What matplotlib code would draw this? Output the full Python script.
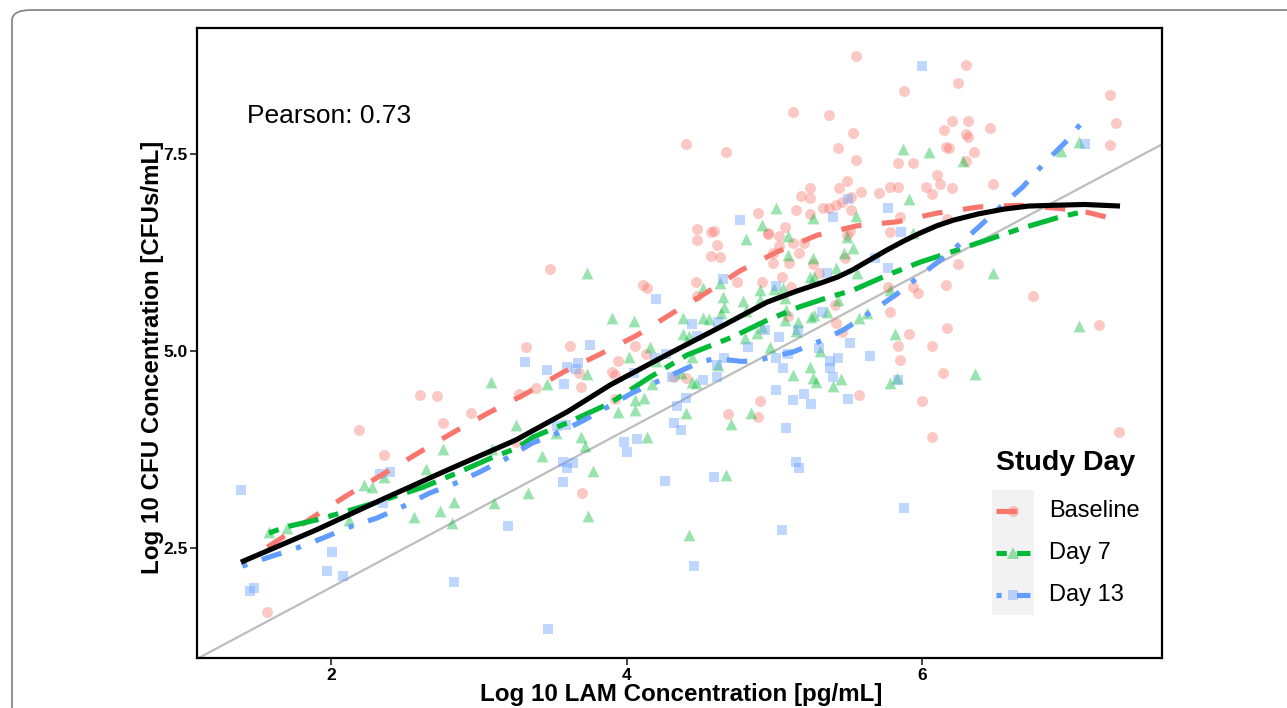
import numpy as np
import matplotlib
matplotlib.use("Agg")
import matplotlib.pyplot as plt
from matplotlib.lines import Line2D
from matplotlib.patches import Rectangle, FancyBboxPatch

plt.rcParams['font.family'] = ['Liberation Sans', 'DejaVu Sans']

# ---------------- data ----------------
series_names = ["Baseline", "Day 7", "Day 13"]

base_x = [2.60, 2.72, 2.95, 2.76, 2.19, 2.36, 3.25, 1.57, 3.48, 3.32, 3.62, 3.68, 3.69, 3.39, 3.27,
          4.06, 3.94, 3.90, 3.92, 4.13, 4.11, 4.14, 4.40, 3.92, 4.69, 4.89, 4.90, 4.32,
          4.48, 4.57, 4.61, 4.57, 4.63, 4.47, 4.48, 4.75, 4.92, 4.96, 5.03, 5.03, 4.99, 5.10,
          4.99, 5.13, 5.17, 5.20, 5.26, 5.30, 5.05, 5.11, 5.09,
          5.13, 5.37, 4.40, 4.67, 5.24, 5.18, 5.24, 5.15, 4.89, 5.24, 5.07, 4.96, 4.48, 4.59,
          5.33, 5.37,
          5.55, 6.30, 6.24, 5.88, 7.27, 7.31, 5.53, 6.15, 6.20, 6.31, 6.46, 6.30, 6.31, 7.27,
          5.43, 6.16, 6.18, 6.35, 6.30, 5.55, 5.84, 5.94, 6.10, 6.12, 6.20, 6.03, 6.07, 6.48,
          5.78, 5.84, 5.71, 5.59, 5.49, 5.44, 5.52, 5.46, 5.42, 5.52, 5.85, 6.17, 5.78, 5.51,
          5.49,
          6.24, 6.75, 6.16, 5.94, 5.97, 5.77, 5.78, 7.20, 6.17, 5.91, 5.84, 6.07, 5.85, 6.14,
          5.57, 6.00, 6.07, 7.33, 5.46, 5.42, 5.41, 5.48, 3.70]
base_y = [4.44, 4.43, 4.21, 4.09, 4.00, 3.68, 3.84, 1.69, 6.04, 5.05, 5.06, 4.72, 4.54, 4.53, 4.45,
          5.06, 4.87, 4.73, 4.70, 4.96, 5.84, 5.80, 4.66, 4.39, 4.20, 4.16, 4.37, 4.67,
          6.41, 6.51, 6.35, 6.21, 6.19, 5.88, 5.70, 5.88, 5.88, 6.48, 6.46, 6.33, 6.24, 6.12,
          6.12, 6.37, 6.24, 6.37, 6.10, 5.99, 5.94, 5.81, 5.44,
          8.03, 7.99, 7.63, 7.53, 7.07, 6.97, 6.94, 6.79, 6.75, 6.74, 6.57, 6.50, 6.55, 6.52,
          6.81, 6.81,
          8.74, 8.63, 8.40, 8.30, 8.25, 7.89, 7.77, 7.80, 7.92, 7.92, 7.83, 7.75, 7.72, 7.61,
          7.58, 7.59, 7.58, 7.53, 7.41, 7.42, 7.39, 7.39, 7.23, 7.12, 7.07, 7.08, 6.99, 7.12,
          7.08, 7.08, 7.01, 7.02, 7.16, 7.07, 6.95, 6.89, 6.85, 6.79, 6.70, 6.68, 6.51, 6.52,
          6.47,
          6.10, 5.70, 5.84, 5.81, 5.74, 5.81, 5.49, 5.33, 5.29, 5.22, 5.06, 5.06, 4.89, 4.72,
          4.44, 4.37, 3.91, 3.97, 5.24, 5.36, 5.58, 6.18, 3.20]

day7_x = [3.08, 3.25, 2.22, 2.28, 2.36, 2.64, 2.76, 3.09, 2.12, 2.56, 2.74, 2.83, 2.82, 3.10, 1.58, 1.70,
          3.73, 3.46, 3.73, 3.90, 4.05, 4.02, 4.16, 4.20, 4.38, 4.38, 4.42, 4.44, 4.44, 4.47,
          4.37, 4.17, 4.06, 4.12, 4.06, 3.94, 4.40, 4.71, 4.84, 5.13, 5.24, 5.28, 5.26, 5.31,
          4.97, 5.15, 4.80, 4.92, 4.62, 3.52, 3.69, 3.72, 4.14, 4.81, 4.52, 4.63, 4.65, 4.66,
          4.79, 4.81, 4.64, 4.56, 4.52, 4.90, 4.90, 5.09, 5.09, 5.26, 5.27, 5.24, 5.00, 5.06,
          5.07, 5.08, 5.07, 5.16, 5.25, 5.27, 4.88,
          5.01, 5.26, 4.92,
          5.87, 6.05, 6.28, 7.06, 6.94, 5.91, 5.55, 5.94, 5.49,
          6.48, 5.78, 7.06, 5.82, 6.36, 5.83, 5.78, 5.57, 5.63, 5.45, 5.40, 5.43, 5.36, 5.42,
          5.47, 5.53, 5.56,
          3.43, 3.77, 3.33, 3.74, 4.67, 4.42]
day7_y = [4.61, 4.06, 3.30, 3.27, 3.40, 3.50, 3.76, 3.76, 2.86, 2.89, 2.97, 3.08, 2.82, 3.07, 2.70, 2.75,
          5.99, 4.58, 4.71, 5.42, 5.38, 4.92, 5.05, 4.87, 5.42, 5.22, 5.19, 4.92, 4.61, 4.59,
          4.72, 4.58, 4.38, 4.40, 4.25, 4.23, 4.21, 4.07, 4.21, 4.70, 4.80, 4.61, 4.66, 5.00,
          5.05, 5.25, 5.16, 5.30, 4.82, 3.96, 3.91, 3.79, 3.91, 6.42, 5.80, 5.86, 5.69, 5.56,
          5.63, 5.51, 5.48, 5.41, 5.42, 5.77, 5.65, 6.46, 6.22, 6.18, 5.94, 5.94, 5.79, 5.80,
          5.67, 5.52, 5.39, 5.37, 5.43, 5.46, 5.23,
          6.81, 6.69, 6.60,
          7.56, 7.53, 7.41, 7.65, 7.54, 6.93, 6.71, 6.50, 6.45,
          5.99, 5.77, 5.32, 5.22, 4.71, 4.66, 4.59, 5.42, 5.48, 4.64, 4.56, 5.65, 5.49, 6.05,
          6.24, 6.31, 5.99,
          3.67, 3.48, 3.20, 2.91, 3.43, 2.67]

day13_x = [1.39, 2.33, 2.40, 2.35, 2.01, 1.97, 2.08, 1.45, 1.48, 2.83, 3.20,
           3.75, 3.31, 3.46, 3.58, 3.60, 3.67, 3.66, 4.05, 4.19, 4.27, 4.20, 4.44, 4.48, 4.31,
           4.34, 4.40, 4.32, 4.37, 5.08, 5.01, 5.20, 5.25, 5.13, 5.06, 5.01, 5.09, 5.30, 5.03,
           5.16, 4.94, 4.82, 4.66, 4.61, 4.61, 4.52, 3.53, 3.59, 3.98, 4.07, 4.65, 4.62, 5.01,
           5.32, 5.36, 4.77,
           6.00, 7.10, 5.50, 5.40, 5.77, 5.86,
           5.77, 5.84, 5.50, 5.51, 5.65, 5.43, 5.38, 5.38, 5.40, 5.68,
           3.57, 3.64, 3.60, 3.57, 4.26, 4.59, 5.15, 5.17, 5.05, 4.46, 3.47, 4.00, 5.88]
day13_y = [3.24, 3.44, 3.46, 3.07, 2.45, 2.21, 2.14, 1.95, 1.99, 2.07, 2.78,
           5.08, 4.86, 4.76, 4.58, 4.80, 4.85, 4.77, 4.72, 4.91, 4.96, 5.66, 5.34, 5.19, 4.67,
           4.30, 4.40, 4.09, 4.00, 4.02, 4.51, 4.45, 4.33, 4.38, 4.78, 4.91, 4.96, 5.04, 5.18,
           5.27, 5.27, 5.05, 4.91, 4.82, 4.67, 4.63, 4.05, 4.06, 3.85, 3.88, 5.91, 5.37, 5.82,
           5.49, 5.99, 6.66,
           8.62, 7.63, 6.93, 6.70, 6.81, 6.51,
           6.05, 4.63, 4.39, 5.10, 4.94, 4.91, 4.87, 4.78, 4.67, 6.18,
           3.59, 3.58, 3.52, 3.34, 3.35, 3.40, 3.59, 3.52, 2.73, 2.27, 1.47, 3.72, 3.01]

# smooth (loess) curves
smooth_all_x = [1.39, 1.90, 2.35, 2.80, 3.25, 3.60, 3.89, 4.27, 4.63, 4.95, 5.15, 5.31, 5.43, 5.53,
                5.64, 5.76, 5.88, 5.99, 6.10, 6.21, 6.38, 6.55, 6.72, 6.89, 7.10, 7.34]
smooth_all_y = [2.32, 2.73, 3.12, 3.50, 3.87, 4.23, 4.57, 4.95, 5.30, 5.62, 5.76, 5.86, 5.94, 6.03,
                6.15, 6.28, 6.40, 6.50, 6.59, 6.66, 6.74, 6.80, 6.84, 6.85, 6.86, 6.84]

smooth_base_x = [1.57, 1.91, 2.11, 2.40, 2.62, 2.83, 3.06, 3.31, 3.57, 3.82, 4.07, 4.31, 4.54, 4.77,
                 5.02, 5.29, 5.56, 5.83, 6.10, 6.39, 6.66, 6.93, 7.12, 7.29]
smooth_base_y = [2.51, 2.93, 3.17, 3.49, 3.74, 3.97, 4.21, 4.45, 4.73, 4.96, 5.20, 5.48, 5.74, 6.02,
                 6.26, 6.47, 6.59, 6.64, 6.75, 6.83, 6.85, 6.81, 6.76, 6.68]

smooth_day7_x = [1.58, 1.70, 1.91, 2.13, 2.31, 2.62, 2.85, 3.08, 3.26, 3.37, 3.60, 3.89, 4.16, 4.41,
                 4.72, 4.95, 5.17, 5.38, 5.53, 5.76, 5.99, 6.17, 6.44, 6.66, 6.93, 7.07]
smooth_day7_y = [2.69, 2.77, 2.86, 2.98, 3.08, 3.27, 3.45, 3.64, 3.77, 3.91, 4.09, 4.34, 4.67, 4.95,
                 5.18, 5.39, 5.56, 5.69, 5.77, 5.96, 6.13, 6.24, 6.41, 6.55, 6.70, 6.76]

smooth_day13_x = [1.40, 1.59, 1.77, 1.95, 2.13, 2.31, 2.49, 2.67, 2.84, 2.99, 3.19, 3.36, 3.55, 3.71,
                  3.89, 4.04, 4.23, 4.38, 4.50, 4.59, 4.68, 4.77, 4.86, 4.97, 5.13, 5.33, 5.47, 5.65,
                  5.82, 5.97, 6.12, 6.27, 6.41, 6.56, 6.68, 6.83, 6.97, 7.09]
smooth_day13_y = [2.27, 2.39, 2.50, 2.63, 2.77, 2.88, 3.03, 3.20, 3.32, 3.45, 3.64, 3.83, 3.97, 4.12,
                  4.31, 4.47, 4.63, 4.76, 4.86, 4.90, 4.89, 4.87, 4.87, 4.92, 4.99, 5.14, 5.27, 5.49,
                  5.71, 5.93, 6.15, 6.38, 6.62, 6.88, 7.08, 7.39, 7.65, 7.92]

x_ticks = [2, 4, 6]
y_ticks = [2.5, 5.0, 7.5]
y_tick_labels = ["2.5", "5.0", "7.5"]
pearson_text = "Pearson: 0.73"

# ---------------- figure ----------------
W, H = 1287, 708
fig = plt.figure(figsize=(W / 100, H / 100), dpi=100)

def fx(px):
    return px / W

def fy(py):
    return 1 - py / H

# outer rounded frame (journal figure frame)
frame = FancyBboxPatch((fx(12), fy(760)), fx(1400), fy(10) - fy(760),
                       boxstyle="round,pad=0,rounding_size=0.015",
                       transform=fig.transFigure, fill=False,
                       edgecolor="#7f7f7f", linewidth=1.2, clip_on=False)
fig.patches.append(frame)

ax = fig.add_axes([fx(197), fy(658), fx(1162) - fx(197), fy(28) - fy(658)])
ax.set_xlim(1.093, 7.624)
ax.set_ylim(1.104, 9.10)

cols = {"Baseline": "#F8766D", "Day 7": "#00BA38", "Day 13": "#619CFF"}
markers = {"Baseline": "o", "Day 7": "^", "Day 13": "s"}
msizes = {"Baseline": 62, "Day 7": 72, "Day 13": 52}
dashes = {"Baseline": (4, 4), "Day 7": (2, 2, 6, 2), "Day 13": (1, 3, 4, 3)}

# identity reference line
ax.axline((0, 0), (1, 1), color="#bdbdbd", linewidth=1.6, zorder=1)

pts = {"Baseline": (base_x, base_y), "Day 7": (day7_x, day7_y), "Day 13": (day13_x, day13_y)}
for name in series_names:
    xs, ys = pts[name]
    ax.scatter(xs, ys, s=msizes[name], marker=markers[name], color=cols[name],
               alpha=0.4, linewidths=0, zorder=2)

smooths = {"Baseline": (smooth_base_x, smooth_base_y),
           "Day 7": (smooth_day7_x, smooth_day7_y),
           "Day 13": (smooth_day13_x, smooth_day13_y)}
LW = 3.7
for name in series_names:
    xs, ys = smooths[name]
    ln, = ax.plot(xs, ys, color=cols[name], linewidth=LW, zorder=3, solid_capstyle="butt",
                  solid_joinstyle="round", dash_joinstyle="round")
    ln.set_dashes(dashes[name])

ax.plot(smooth_all_x, smooth_all_y, color="black", linewidth=LW, zorder=4,
        solid_capstyle="butt", solid_joinstyle="round")

# axes styling
for sp in ax.spines.values():
    sp.set_linewidth(1.6)
    sp.set_color("black")
ax.set_xticks(x_ticks)
ax.set_xticklabels([str(t) for t in x_ticks])
ax.set_yticks(y_ticks)
ax.set_yticklabels(y_tick_labels)
ax.tick_params(axis="both", direction="out", length=5, width=1.3, color="#333333",
               labelsize=12.5, pad=2)
for lab in ax.get_xticklabels() + ax.get_yticklabels():
    lab.set_fontweight("bold")

# titles / annotations
fig.text(fx(681), fy(695), "Log 10 LAM Concentration [pg/mL]", ha="center", va="center",
         fontsize=17.4, fontweight="bold")
fig.text(fx(152), fy(357), "Log 10 CFU Concentration [CFUs/mL]", ha="center", va="center",
         rotation=90, fontsize=17.4, fontweight="bold")
fig.text(fx(247), fy(116), pearson_text, ha="left", va="center", fontsize=19)

# legend (drawn as in ggplot: grey key column)
fig.text(fx(996), fy(463), "Study Day", ha="left", va="center", fontsize=20.5,
         fontweight="bold")
fig.patches.append(Rectangle((fx(992), fy(615)), fx(1034) - fx(992), fy(490) - fy(615),
                             transform=fig.transFigure, facecolor="#f2f2f2",
                             edgecolor="none", zorder=1))
key_y = [511, 553, 595]
for name, ky in zip(series_names, key_y):
    kl = Line2D([fx(996), fx(1030)], [fy(ky), fy(ky)], transform=fig.transFigure,
                color=cols[name], linewidth=LW, solid_capstyle="butt", zorder=3)
    kl.set_dashes(dashes[name])
    fig.lines.append(kl)
    km = Line2D([fx(1013)], [fy(ky)], transform=fig.transFigure, marker=markers[name],
                markersize=np.sqrt(msizes[name]), color=cols[name], alpha=0.4,
                markeredgewidth=0, linestyle="none", zorder=4)
    fig.lines.append(km)
    fig.text(fx(1049), fy(ky), name, ha="left", va="center", fontsize=17)

fig.savefig("out.png", dpi=100)
